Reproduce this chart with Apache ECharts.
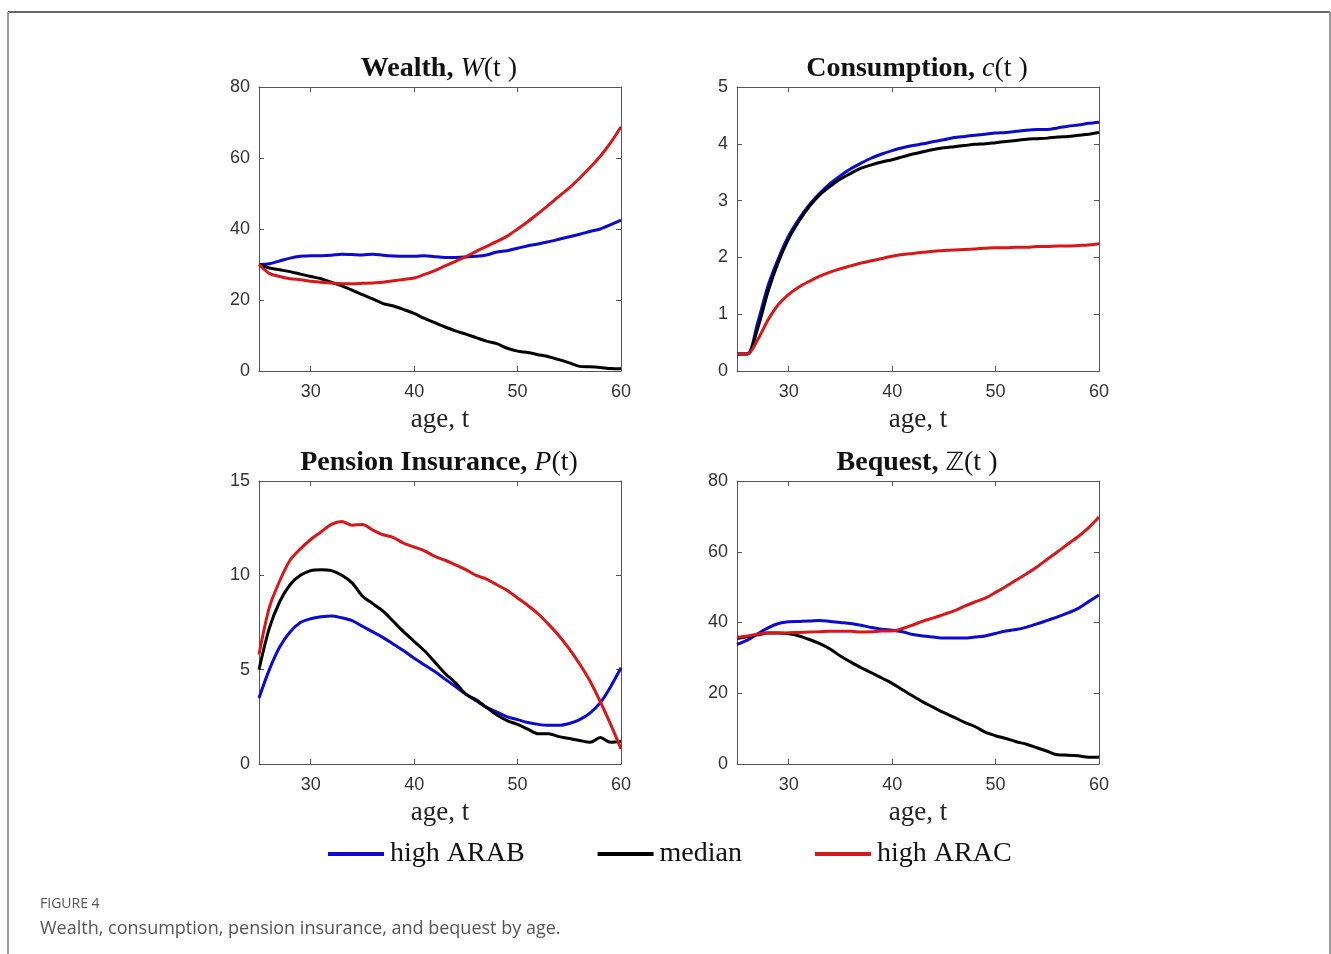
<!DOCTYPE html>
<html>
<head>
<meta charset="utf-8">
<script src="https://cdn.jsdelivr.net/npm/echarts@6/dist/echarts.min.js"></script>
<style>
html,body{margin:0;padding:0;background:#fff;}
#chart{width:1331px;height:954px;}
</style>
</head>
<body>
<div id="chart"></div>
<script>
const ages = [25,26,27,28,29,30,31,32,33,34,35,36,37,38,39,40,41,42,43,44,45,46,47,48,49,50,51,52,53,54,55,56,57,58,59,60];
const xTicks = [30,40,50,60];
const seriesNames = ['high ARAB','median','high ARAC'];
const seriesColors = ['#0a0ad0','#000000','#d81818'];

// Wealth W(t)
const wealthArab = [30,30.2,31,31.8,32.3,32.5,32.5,32.6,32.9,32.8,32.7,32.9,32.6,32.4,32.3,32.3,32.5,32.2,32.0,32.0,32.1,32.3,32.7,33.5,33.9,34.6,35.3,35.8,36.4,37.1,37.8,38.5,39.3,40.0,41.2,42.5];
const wealthMedian = [30,29,28.5,28,27.3,26.6,26,25,24,22.8,21.5,20.3,19,18.3,17.3,16.2,14.8,13.6,12.4,11.3,10.4,9.4,8.4,7.7,6.4,5.6,5.2,4.6,4.0,3.2,2.3,1.3,1.2,1.0,0.7,0.6];
const wealthArac = [30,27.5,26.6,26.0,25.7,25.3,25.0,24.8,24.6,24.6,24.7,24.8,25.0,25.4,25.8,26.2,27.2,28.3,29.6,30.9,32.2,33.7,35.1,36.5,38.0,40.0,42.1,44.4,46.7,49.2,51.6,54.3,57.3,60.5,64.3,68.8];

// Consumption c(t)
const consArab = [0.3,0.3,0.85,1.5,1.98,2.38,2.68,2.93,3.13,3.3,3.44,3.56,3.66,3.75,3.82,3.88,3.93,3.97,4.0,4.04,4.07,4.11,4.13,4.15,4.17,4.19,4.2,4.22,4.24,4.25,4.25,4.28,4.31,4.33,4.36,4.38];
const consMedian = [0.3,0.3,0.75,1.4,1.92,2.33,2.64,2.9,3.1,3.25,3.38,3.48,3.57,3.63,3.68,3.72,3.77,3.82,3.86,3.9,3.93,3.95,3.97,3.99,4.0,4.02,4.04,4.06,4.08,4.09,4.1,4.12,4.13,4.15,4.17,4.2];
const consArac = [0.3,0.3,0.55,0.9,1.17,1.35,1.48,1.58,1.67,1.74,1.8,1.85,1.9,1.94,1.98,2.02,2.05,2.07,2.09,2.11,2.12,2.13,2.14,2.15,2.16,2.17,2.17,2.18,2.18,2.19,2.19,2.2,2.2,2.21,2.22,2.24];

// Pension insurance P(t)
const penArab = [3.5,5.0,6.2,7.0,7.5,7.7,7.8,7.85,7.75,7.6,7.3,7.0,6.7,6.35,6.0,5.6,5.25,4.9,4.5,4.1,3.7,3.35,3.0,2.75,2.5,2.35,2.2,2.1,2.05,2.05,2.15,2.35,2.7,3.25,4.1,5.1];
const penMedian = [5.0,7.2,8.6,9.5,10.0,10.25,10.3,10.25,10.0,9.6,8.9,8.5,8.1,7.55,7.0,6.5,6.0,5.4,4.8,4.3,3.7,3.4,3.0,2.6,2.3,2.1,1.85,1.6,1.6,1.45,1.35,1.25,1.15,1.4,1.15,1.2];
const penArac = [5.8,8.3,9.7,10.8,11.4,11.9,12.3,12.7,12.85,12.65,12.7,12.4,12.15,12.0,11.7,11.5,11.3,11.0,10.8,10.55,10.3,10.0,9.8,9.5,9.2,8.8,8.4,7.95,7.4,6.8,6.1,5.3,4.4,3.3,2.1,0.8];

// Bequest Z(t)
const beqArab = [33.8,35,36.8,38.5,39.7,40.2,40.3,40.4,40.6,40.3,40.0,39.7,39.2,38.6,38.1,37.8,37.4,36.6,36.2,35.9,35.6,35.6,35.6,35.9,36.2,36.9,37.6,38.0,38.7,39.6,40.6,41.6,42.7,44.0,45.9,47.8];
const beqMedian = [35.5,36,36.5,37,37,36.8,36.2,35.2,34,32.5,30.5,28.8,27.2,25.8,24.3,22.8,21,19.2,17.5,16,14.5,13.2,11.8,10.6,9,8,7.2,6.3,5.6,4.6,3.6,2.6,2.5,2.3,1.9,2.0];
const beqArac = [35.8,36.2,36.7,37.0,37.0,37.1,37.2,37.3,37.4,37.5,37.5,37.5,37.3,37.4,37.6,37.6,38.3,39.3,40.4,41.3,42.3,43.3,44.6,45.8,46.9,48.5,50.2,52.0,53.8,55.7,57.9,60.0,62.2,64.3,66.8,69.8];

const panels = [
  {title:'{b|Wealth, }{i|W}{n|(t )}', left:259, top:87, h:284, yMax:80, yInt:20, data:[wealthArab,wealthMedian,wealthArac]},
  {title:'{b|Consumption, }{i|c}{n|(t )}', left:737, top:87, h:284, yMax:5, yInt:1, data:[consArab,consMedian,consArac]},
  {title:'{b|Pension Insurance, }{i|P}{n|(t)}', left:259, top:481, h:283, yMax:15, yInt:5, data:[penArab,penMedian,penArac]},
  {title:'{b|Bequest, }{z|ℤ}{n|(t )}', left:737, top:481, h:283, yMax:80, yInt:20, data:[beqArab,beqMedian,beqArac]}
];
const W = 362;
const axisColor = '#555';
const titleRich = {
  b:{fontFamily:'Liberation Serif', fontWeight:'bold', fontSize:28, color:'#111'},
  i:{fontFamily:'Liberation Serif', fontStyle:'italic', fontWeight:'normal', fontSize:28, color:'#111'},
  n:{fontFamily:'Liberation Serif', fontWeight:'normal', fontSize:28, color:'#111'},
  z:{fontFamily:'DejaVu Sans', fontWeight:'normal', fontSize:25, color:'#111'}
};

const grid=[], xAxis=[], yAxis=[], series=[], title=[];
panels.forEach((p,k)=>{
  grid.push({left:p.left, top:p.top, width:W, height:p.h, containLabel:false});
  title.push({text:p.title, left:p.left+W/2-6, top:p.top-37, textAlign:'center', textStyle:{rich:titleRich}});
  const xBase = {type:'value', gridIndex:k, min:25, max:60,
    axisLine:{show:true, onZero:false, lineStyle:{color:axisColor, width:1}},
    splitLine:{show:false}};
  xAxis.push(Object.assign({}, xBase, {position:'bottom',
    name:'age, t', nameLocation:'middle', nameGap:35,
    nameTextStyle:{fontFamily:'Liberation Serif', fontSize:27, color:'#222'},
    axisTick:{show:true, inside:true, length:5, customValues:xTicks, lineStyle:{color:axisColor}},
    axisLabel:{show:true, margin:12, customValues:xTicks, fontFamily:'Liberation Sans', fontSize:18, color:'#333'}}));
  xAxis.push(Object.assign({}, xBase, {position:'top',
    axisTick:{show:true, inside:true, length:5, customValues:xTicks, lineStyle:{color:axisColor}},
    axisLabel:{show:false}}));
  const yBase = {type:'value', gridIndex:k, min:0, max:p.yMax, interval:p.yInt,
    axisLine:{show:true, onZero:false, lineStyle:{color:axisColor, width:1}},
    axisTick:{show:true, inside:true, length:5, lineStyle:{color:axisColor}},
    splitLine:{show:false}};
  yAxis.push(Object.assign({}, yBase, {position:'left',
    axisLabel:{show:true, margin:9, fontFamily:'Liberation Sans', fontSize:18, color:'#333'}}));
  yAxis.push(Object.assign({}, yBase, {position:'right', axisLabel:{show:false}}));
  p.data.forEach((arr,j)=>{
    series.push({name:seriesNames[j], type:'line', xAxisIndex:2*k, yAxisIndex:2*k,
      data:ages.map((a,i)=>[a,arr[i]]), showSymbol:false, symbol:'none', smooth:0.3,
      lineStyle:{color:seriesColors[j], width:3}, itemStyle:{color:seriesColors[j]}, z:2+j});
  });
});

const option = {
  animation:false,
  backgroundColor:'#fff',
  title,
  grid, xAxis, yAxis, series,
  legend:{data:seriesNames.map(n=>({name:n, icon:'rect'})), left:323, top:835, itemWidth:56, itemHeight:4, itemGap:73,
    textStyle:{fontFamily:'Liberation Serif', fontSize:28, color:'#111', padding:[0,0,0,1]}},
  graphic:[
    {type:'line', shape:{x1:8,y1:12,x2:1330,y2:12}, style:{stroke:'#333', lineWidth:1.5}},
    {type:'line', shape:{x1:8,y1:12,x2:8,y2:954}, style:{stroke:'#999', lineWidth:2}},
    {type:'line', shape:{x1:1330,y1:12,x2:1330,y2:954}, style:{stroke:'#999', lineWidth:2}},
    {type:'text', left:40, top:897, style:{text:'FIGURE 4', font:'14px "Open Sans"', fill:'#555'}},
    {type:'text', left:40, top:920, style:{text:'Wealth, consumption, pension insurance, and bequest by age.', font:'18px "Open Sans"', fill:'#555'}}
  ]
};
const chart = echarts.init(document.getElementById('chart'), null, {renderer:'canvas'});
chart.setOption(option);
</script>
</body>
</html>
